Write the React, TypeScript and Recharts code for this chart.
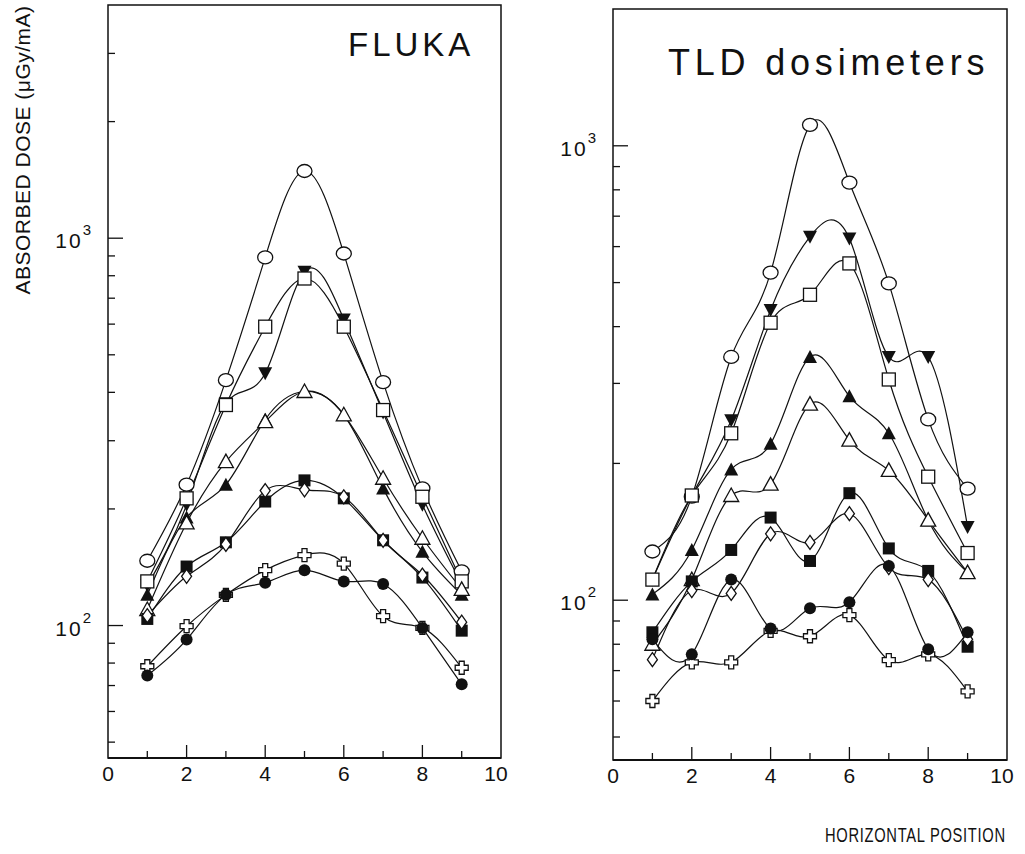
import React from "react";
import { LineChart, Line, XAxis, YAxis, ReferenceArea } from "recharts";

// horizontal position of each measuring point
const positions = [1, 2, 3, 4, 5, 6, 7, 8, 9];

// FLUKA (left panel), µGy/mA
const flukaOpenCircle = [147, 231, 430, 892, 1491, 913, 425, 226, 138];
const flukaDownTri = [127, 205, 375, 448, 819, 617, 355, 205, 128];
const flukaOpenSquare = [130, 213, 371, 591, 787, 591, 360, 215, 130];
const flukaTri = [120, 190, 231, 340, 402, 350, 226, 155, 120];
const flukaOpenTri = [110, 184, 265, 336, 402, 350, 240, 168, 124];
const flukaSquare = [104, 142, 164, 209, 237, 213, 166, 133, 97];
const flukaDiamond = [106, 134, 162, 223, 224, 215, 166, 135, 102];
const flukaCross = [78.5, 99.6, 120, 139, 152, 144.5, 105.7, 98.6, 77.8];
const flukaDot = [74.3, 92, 120, 129, 139, 130, 128, 98.6, 70.5];

// TLD dosimeters (right panel), µGy/mA
const tldOpenCircle = [128, 169, 343, 526, 1112, 830, 498, 250, 176];
const tldDownTri = [111, 170, 249, 435, 631, 625, 343, 343, 145];
const tldOpenSquare = [111, 170, 233, 408, 470, 551, 306, 187, 127];
const tldTri = [103, 129, 194, 221, 343, 281, 233, 150, 115];
const tldOpenTri = [80, 111, 170, 180, 270, 225, 193, 150, 115];
const tldSquare = [85, 110, 129, 152, 122, 172, 130, 116, 79];
const tldDiamond = [74, 105, 103.5, 140, 134, 155, 118, 111, 82];
const tldCross = [60, 73, 73, 85.6, 83.3, 92.7, 73.8, 76, 63];
const tldDot = [82, 76, 111, 86.6, 96, 99, 119, 78, 85];

const xTicks = [0, 1, 2, 3, 4, 5, 6, 7, 8, 9, 10];
const leftYTicks = [50, 60, 70, 80, 90, 100, 200, 300, 400, 500, 600, 700, 800, 900, 1000, 2000, 3000];
const rightYTicks = [50, 60, 70, 80, 90, 100, 200, 300, 400, 500, 600, 700, 800, 900, 1000];

const seriesKeys = ["oc", "dt", "os", "ft", "ot", "fs", "od", "cr", "fc"];

const buildRows = (lists: number[][]) =>
  positions.map((x, i) => {
    const row: Record<string, number> = { x };
    lists.forEach((l, k) => (row[seriesKeys[k]] = l[i]));
    return row;
  });

const flukaRows = buildRows([
  flukaOpenCircle, flukaDownTri, flukaOpenSquare, flukaTri, flukaOpenTri,
  flukaSquare, flukaDiamond, flukaCross, flukaDot,
]);
const tldRows = buildRows([
  tldOpenCircle, tldDownTri, tldOpenSquare, tldTri, tldOpenTri,
  tldSquare, tldDiamond, tldCross, tldDot,
]);

const INK = "#111";
const FONT = "'Liberation Sans', Arial, sans-serif";

const marker = (key: string) => (p: any) => {
  const { cx, cy, index } = p;
  if (cx == null || cy == null) return <g key={index} />;
  const sw = 1.3;
  switch (key) {
    case "oc":
      return <ellipse key={index} cx={cx} cy={cy} rx={7.5} ry={6.5} fill="#fff" stroke={INK} strokeWidth={sw} />;
    case "dt":
      return <polygon key={index} points={`${cx - 7},${cy - 6} ${cx + 7},${cy - 6} ${cx},${cy + 7}`} fill={INK} />;
    case "os":
      return <rect key={index} x={cx - 6.5} y={cy - 6.5} width={13} height={13} fill="#fff" stroke={INK} strokeWidth={sw} />;
    case "ft":
      return <polygon key={index} points={`${cx - 7},${cy + 6} ${cx + 7},${cy + 6} ${cx},${cy - 7}`} fill={INK} />;
    case "ot":
      return <polygon key={index} points={`${cx - 7.5},${cy + 6} ${cx + 7.5},${cy + 6} ${cx},${cy - 7.5}`} fill="#fff" stroke={INK} strokeWidth={sw} />;
    case "fs":
      return <rect key={index} x={cx - 6} y={cy - 6} width={12} height={12} fill={INK} />;
    case "od":
      return <polygon key={index} points={`${cx},${cy - 7} ${cx + 5},${cy} ${cx},${cy + 7} ${cx - 5},${cy}`} fill="#fff" stroke={INK} strokeWidth={sw} />;
    case "cr": {
      const a = 2.5, b = 6.5;
      const pts = [
        [-a, -b], [a, -b], [a, -a], [b, -a], [b, a], [a, a],
        [a, b], [-a, b], [-a, a], [-b, a], [-b, -a], [-a, -a],
      ].map(([dx, dy]) => `${cx + dx},${cy + dy}`).join(" ");
      return <polygon key={index} points={pts} fill="#fff" stroke={INK} strokeWidth={sw} />;
    }
    default:
      return <circle key={index} cx={cx} cy={cy} r={6} fill={INK} />;
  }
};

const xTick = (bottom: number) => (p: any) => {
  const v = p.payload.value;
  const major = v % 2 === 0;
  return (
    <g key={`xt-${v}`}>
      {v > 0 && v < 10 && (
        <line x1={p.x} x2={p.x} y1={bottom} y2={bottom - (major ? 13 : 7)} stroke={INK} strokeWidth={1.3} />
      )}
      {major && (
        <text x={v === 10 ? p.x - 5 : p.x} y={bottom + 23} textAnchor="middle" fontSize={21} fontFamily={FONT} fill={INK}>
          {v}
        </text>
      )}
    </g>
  );
};

const yTick = (left: number) => (p: any) => {
  const v = p.payload.value;
  const major = v === 100 || v === 1000;
  return (
    <g key={`yt-${v}`}>
      <line x1={left} x2={left + (major ? 15 : 7)} y1={p.y} y2={p.y} stroke={INK} strokeWidth={1.3} />
      {major && (
        <text x={left - 15} y={p.y + 10} textAnchor="end" fontSize={21} fontFamily={FONT} fill={INK} letterSpacing={2}>
          10
          <tspan dy={-13} fontSize={15}>{v === 100 ? "2" : "3"}</tspan>
        </text>
      )}
    </g>
  );
};

interface PanelProps {
  rows: Record<string, number>[];
  width: number;
  height: number;
  margin: { top: number; right: number; bottom: number; left: number };
  yAxisWidth: number;
  xAxisHeight: number;
  yDomain: [number, number];
  yTicks: number[];
}

function Panel({ rows, width, height, margin, yAxisWidth, xAxisHeight, yDomain, yTicks }: PanelProps) {
  const plotLeft = margin.left + yAxisWidth;
  const plotBottom = height - margin.bottom - xAxisHeight;
  return (
    <LineChart width={width} height={height} data={rows} margin={margin}>
      <XAxis
        dataKey="x"
        type="number"
        domain={[0, 10]}
        ticks={xTicks}
        interval={0}
        height={xAxisHeight}
        tickLine={false}
        axisLine={{ stroke: INK, strokeWidth: 2 }}
        tick={xTick(plotBottom)}
      />
      <YAxis
        type="number"
        scale="log"
        domain={yDomain}
        allowDataOverflow
        ticks={yTicks}
        interval={0}
        width={yAxisWidth}
        tickLine={false}
        axisLine={false}
        tick={yTick(plotLeft)}
      />
      <ReferenceArea
        x1={0}
        x2={10}
        y1={yDomain[0]}
        y2={yDomain[1]}
        fill="none"
        fillOpacity={0}
        stroke={INK}
        strokeWidth={1.5}
        ifOverflow="visible"
      />
      {seriesKeys.map((k) => (
        <Line
          key={k}
          dataKey={k}
          type="natural"
          stroke={INK}
          strokeWidth={1.2}
          dot={marker(k)}
          activeDot={false}
          isAnimationActive={false}
        />
      ))}
    </LineChart>
  );
}

export default function App() {
  return (
    <div style={{ position: "absolute", left: 0, top: 0, width: 1025, height: 854, background: "#fff", fontFamily: FONT, color: INK }}>
      <div style={{ position: "absolute", left: 0, top: 0 }}>
        <Panel
          rows={flukaRows}
          width={520}
          height={854}
          margin={{ top: 5, right: 19, bottom: 0, left: 0 }}
          yAxisWidth={108}
          xAxisHeight={96}
          yDomain={[45.5, 4000]}
          yTicks={leftYTicks}
        />
      </div>
      <div style={{ position: "absolute", left: 520, top: 0 }}>
        <Panel
          rows={tldRows}
          width={505}
          height={854}
          margin={{ top: 9, right: 18, bottom: 0, left: 0 }}
          yAxisWidth={93}
          xAxisHeight={94}
          yDomain={[44.5, 2000]}
          yTicks={rightYTicks}
        />
      </div>
      <div style={{ position: "absolute", left: 348, top: 28, fontSize: 33, letterSpacing: 4, lineHeight: 1 }}>FLUKA</div>
      <div style={{ position: "absolute", left: 668, top: 45, fontSize: 36, letterSpacing: 4.8, lineHeight: 1, whiteSpace: "nowrap" }}>
        TLD dosimeters
      </div>
      <div
        style={{
          position: "absolute",
          left: 825,
          top: 824,
          fontSize: 21,
          letterSpacing: 1,
          lineHeight: 1,
          whiteSpace: "nowrap",
          transform: "scaleX(0.7)",
          transformOrigin: "0 0",
        }}
      >
        HORIZONTAL POSITION
      </div>
      <div
        style={{
          position: "absolute",
          left: 22,
          top: 150,
          transform: "translate(-50%, -50%) rotate(-90deg)",
          fontSize: 21,
          letterSpacing: 0.5,
          whiteSpace: "nowrap",
          lineHeight: 1,
        }}
      >
        ABSORBED DOSE (μGy/mA)
      </div>
    </div>
  );
}
